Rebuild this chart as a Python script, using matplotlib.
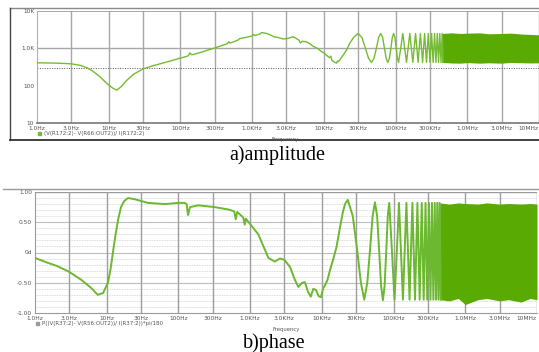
import matplotlib
matplotlib.use("Agg")
import matplotlib.pyplot as plt
from matplotlib.lines import Line2D
from matplotlib.patches import Rectangle

# ---------------- data ----------------
x_ticks = [1, 3, 10, 30, 100, 300, 1e3, 3e3, 1e4, 3e4, 1e5, 3e5, 1e6, 3e6, 1e7]
x_ticklabels = ['1.0Hz', '3.0Hz', '10Hz', '30Hz', '100Hz', '300Hz', '1.0KHz', '3.0KHz',
                '10KHz', '30KHz', '100KHz', '300KHz', '1.0MHz', '3.0MHz', '10MHz']
amp_yticks = [10, 100, 1000, 10000]
amp_yticklabels = ['10', '100', '1.0K', '10K']
ph_yticks = [-1.0, -0.5, 0.0, 0.5, 1.0]
ph_yticklabels = ['-1.00', '-0.50', '0d', '0.50', '1.00']
amp_ref_level = 300

# amplitude trace (Hz, ohm)
amp_freq = [1, 1.5, 2, 3, 4, 5, 6, 7.5, 9, 10, 11.5, 13, 15, 18, 22, 30, 40, 52, 70, 100,
            120, 130, 135, 142, 150, 200, 300, 450, 470, 490, 640, 660, 1000, 1050, 1100,
            1300, 1350, 1600, 1800, 2000, 2300, 2700, 3200, 3700, 4000, 4500, 4700, 5000,
            5800, 6500, 7000, 7500, 8500, 9000, 10000, 11000, 12000, 12500, 13000, 14000,
            15000, 15500, 16000, 17000, 19000, 21000, 23000, 26000,
            30000, 34000, 38000, 42000, 46000, 50000, 54000, 58000,
            62000, 66000, 70000, 74000, 78000, 82000, 86000, 90000,
            94000, 98000, 102000, 106000, 110000, 118000,
            126000, 142000, 158000, 174000, 190000, 206000, 222000, 238000, 254000,
            270000, 286000, 302000, 318000, 334000, 350000, 366000, 382000, 398000,
            414000, 430000, 446000, 462000]
amp_val = [410, 405, 400, 385, 350, 300, 245, 175, 125, 104, 85, 76, 95, 141, 200, 280, 335,
           385, 450, 550, 600, 640, 760, 680, 680, 800, 1020, 1330, 1500, 1380, 1670, 1800,
           2140, 2350, 2200, 2450, 2650, 2500, 2280, 2050, 1950, 1780, 1850, 2050, 1900,
           1650, 1380, 1550, 1480, 1300, 1150, 1080, 950, 850, 750, 640, 560, 620, 470,
           430, 400, 460, 440, 520, 700, 950, 1380, 1950,
           2500, 1950, 1000, 540, 420, 540, 1000, 1950,
           2500, 1950, 1000, 540, 420, 540, 1000, 1950,
           2500, 1950, 1000, 540, 420, 1000,
           2500, 420, 2500, 420, 2500, 420, 2500, 420, 2500,
           420, 2500, 420, 2500, 420, 2500, 420, 2500, 420,
           2500, 420, 2500, 420]

# dense part of the amplitude trace: envelope
amp_band_freq = [4.4e5, 6e5, 8e5, 1e6, 1.5e6, 2e6, 3e6, 4e6, 6e6, 8e6, 1e7]
amp_band_hi = [2500, 2600, 2500, 2550, 2600, 2450, 2500, 2550, 2400, 2350, 2300]
amp_band_lo = [420, 405, 400, 415, 400, 410, 400, 420, 410, 405, 410]

# phase trace (Hz, normalised phase)
ph_freq = [1, 1.5, 2, 3, 4.4, 6, 7.5, 8.9, 10.4, 11.3, 12.2, 13.3, 14.4, 15.8, 17.5, 19.8,
           24.7, 37.6, 65, 99, 122, 130, 136, 145, 188, 322, 500, 600, 630, 660, 800, 840,
           870, 1030, 1300, 1600, 1800, 2200, 2600, 3000, 3600, 4200, 4700, 5300, 5800,
           6400, 7000, 7600, 8300, 9000, 9700, 10500, 11000, 12000, 13000, 14500, 16000,
           17500, 19500, 21000, 23000, 27000, 31000, 35000, 39000, 43000, 47000, 51000,
           55000, 59000, 63000, 67000, 71000, 75000, 79000, 83000, 87000, 95000, 103000,
           111000, 119000, 135000, 151000, 167000, 183000, 199000, 215000, 231000,
           247000, 263000, 279000, 295000, 311000, 327000, 343000, 359000, 375000,
           391000, 407000, 423000, 439000, 455000]
ph_val = [-0.09, -0.17, -0.22, -0.32, -0.45, -0.58, -0.70, -0.67, -0.50, -0.28, 0.0, 0.30,
          0.54, 0.75, 0.85, 0.90, 0.88, 0.82, 0.80, 0.82, 0.82, 0.80, 0.62, 0.75, 0.78,
          0.75, 0.71, 0.68, 0.55, 0.67, 0.58, 0.46, 0.56, 0.45, 0.30, 0.05, -0.09, -0.15,
          -0.10, -0.12, -0.24, -0.45, -0.57, -0.50, -0.49, -0.65, -0.73, -0.60, -0.62,
          -0.72, -0.74, -0.58, -0.55, -0.45, -0.29, -0.10, 0.09, 0.35, 0.65, 0.80, 0.87,
          0.60, 0.05, -0.50, -0.78, -0.50, 0.05, 0.60, 0.83, 0.60, 0.02, -0.55, -0.79,
          -0.55, 0.02, 0.60, 0.82, 0.02, -0.78, 0.02, 0.82, -0.78, 0.82, -0.78, 0.82,
          -0.78, 0.82, -0.78, 0.82, -0.78, 0.82, -0.78, 0.82, -0.78, 0.82, -0.78, 0.82,
          -0.78, 0.82, -0.78, 0.82, -0.78]

# dense part of the phase trace: envelope
ph_band_freq = [4.4e5, 6e5, 8e5, 1e6, 1.5e6, 2e6, 3e6, 4e6, 6e6, 8e6, 1e7]
ph_band_hi = [0.82, 0.80, 0.82, 0.81, 0.80, 0.82, 0.80, 0.81, 0.80, 0.81, 0.80]
ph_band_lo = [-0.78, -0.80, -0.76, -0.86, -0.78, -0.76, -0.80, -0.78, -0.82, -0.76, -0.78]

legend_amp = '(V(R172:2)- V(R66:OUT2))/ I(R172:2)'
legend_ph = 'P((V(R37:2)- V(R56:OUT2))/ I(R37:2))*pi/180'

# ---------------- figure ----------------
W, H = 539, 352
fig = plt.figure(figsize=(W / 100, H / 100), dpi=100)
fig.patch.set_facecolor('white')


def fx(x):
    return x / W


def fy(y):
    return 1 - y / H


line_green = '#74bc30'
band_green = '#5aaa04'
tick_col = '#555555'
grid_col = '#a8a8a8'

# ---- top panel (amplitude) ----
ax1 = fig.add_axes([fx(37), fy(123), fx(539 - 37), (123 - 11) / H])
ax1.set_xscale('log')
ax1.set_yscale('log')
ax1.set_xlim(1, 1e7)
ax1.set_ylim(10, 10000)
ax1.set_xticks(x_ticks)
ax1.set_xticklabels(x_ticklabels)
ax1.set_yticks(amp_yticks)
ax1.set_yticklabels(amp_yticklabels)
ax1.minorticks_off()
for xt in x_ticks[1:]:
    ax1.axvline(xt, color=grid_col, lw=1.0, zorder=0)
ax1.axhline(1000, color=grid_col, lw=1.0, zorder=0)
ax1.axhline(10000, color='#999999', lw=1.2, zorder=0)
ax1.axhline(amp_ref_level, color='#555555', lw=0.7, ls=(0, (1, 1.5)), zorder=1)
ax1.fill_between(amp_band_freq, amp_band_lo, amp_band_hi, color=band_green, lw=0, zorder=2)
ax1.plot(amp_freq, amp_val, color=line_green, lw=1.0, zorder=3)
for s in ['top', 'right']:
    ax1.spines[s].set_visible(False)
ax1.spines['left'].set_color('#b0b0b0')
ax1.spines['bottom'].set_color('#777777')
ax1.spines['bottom'].set_linewidth(1.2)
ax1.tick_params(axis='both', length=0, labelsize=4.2, labelcolor=tick_col, pad=2)
ax1.get_xticklabels()[-1].set_horizontalalignment('right')

# ---- bottom panel (phase) ----
ax2 = fig.add_axes([fx(35), fy(313), fx(537 - 35), (313 - 192) / H])
ax2.set_xscale('log')
ax2.set_xlim(1, 1e7)
ax2.set_ylim(-1, 1)
ax2.set_xticks(x_ticks)
ax2.set_xticklabels(x_ticklabels)
ax2.set_yticks(ph_yticks)
ax2.set_yticklabels(ph_yticklabels)
ax2.minorticks_off()
for k in range(-9, 10):
    yv = k / 10
    if k % 5 == 0:
        ax2.axhline(yv, color='#bdbdbd', lw=0.8, zorder=0)
    else:
        ax2.axhline(yv, color='#cfcfcf', lw=0.6, ls=(0, (1, 1)), zorder=0)
ax2.axhline(1.0, color='#9a9a9a', lw=1.0, zorder=0)
for xt in x_ticks[1:]:
    ax2.axvline(xt, color='#9e9e9e', lw=1.0, zorder=0)
ax2.fill_between(ph_band_freq, ph_band_lo, ph_band_hi, color=band_green, lw=0, zorder=2)
ax2.plot(ph_freq, ph_val, color='#6cb830', lw=1.4, zorder=3)
for s in ['top', 'right']:
    ax2.spines[s].set_visible(False)
ax2.spines['left'].set_color('#9a9a9a')
ax2.spines['bottom'].set_color('#9a9a9a')
ax2.tick_params(axis='both', length=0, labelsize=4.2, labelcolor=tick_col, pad=2)
ax2.get_xticklabels()[-1].set_horizontalalignment('right')

# ---- frames, legends, captions ----
fig.add_artist(Line2D([fx(10), fx(539)], [fy(8), fy(8)], color='#8a8a8a', lw=1.0))
fig.add_artist(Line2D([fx(10), fx(10)], [fy(8), fy(140)], color='#444444', lw=1.0))
fig.add_artist(Line2D([fx(10), fx(539)], [fy(140), fy(140)], color='#333333', lw=1.3))
fig.add_artist(Line2D([fx(3), fx(539)], [fy(189), fy(189)], color='#9a9a9a', lw=1.0))

fig.add_artist(Rectangle((fx(38), fy(135)), 3 / W, 3 / H, color=line_green))
fig.text(fx(44), fy(133.5), legend_amp, fontsize=4, color=tick_col, va='center', ha='left')
fig.text(fx(272), fy(139.5), 'Frequency', fontsize=3.8, color=tick_col, va='center', ha='left')

fig.add_artist(Rectangle((fx(36), fy(325)), 3 / W, 3 / H, color='#9a9a9a'))
fig.text(fx(42), fy(323.5), legend_ph, fontsize=4, color=tick_col, va='center', ha='left')
fig.text(fx(273), fy(329.5), 'Frequency', fontsize=3.8, color=tick_col, va='center', ha='left')

fig.text(fx(277), fy(155), 'a)amplitude', fontsize=14.5, family='Liberation Serif',
         color='black', ha='center', va='center')
fig.text(fx(274), fy(343), 'b)phase', fontsize=14.5, family='Liberation Serif',
         color='black', ha='center', va='center')

fig.savefig('out.png', dpi=100, facecolor='white')
